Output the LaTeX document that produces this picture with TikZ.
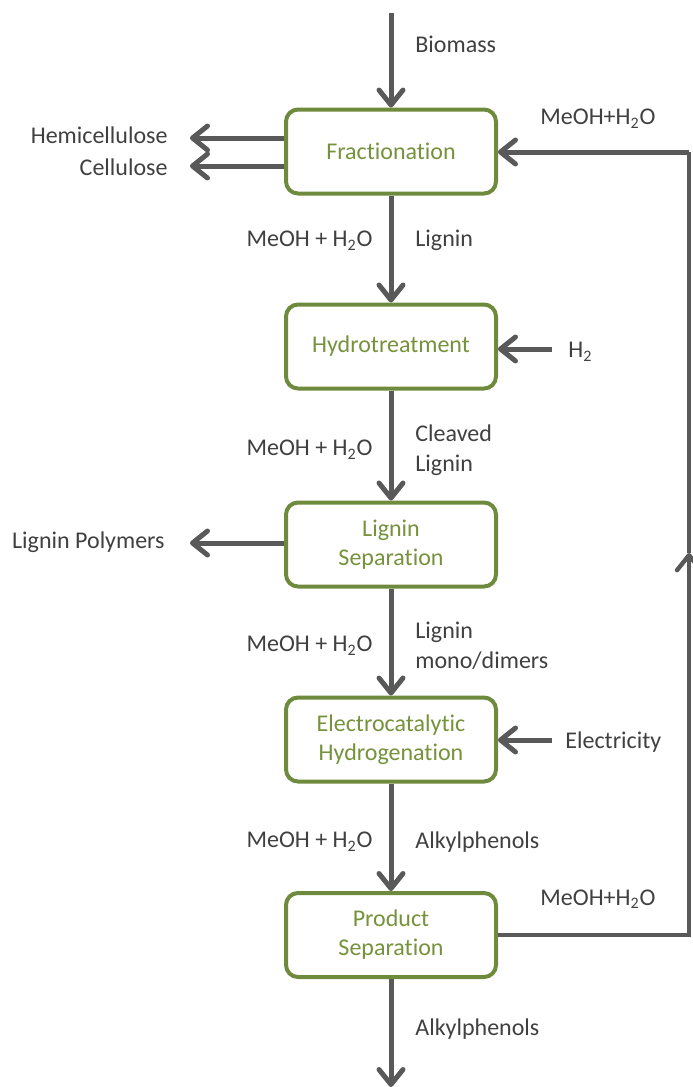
\documentclass[tikz,border=0pt]{standalone}
\usepackage{fontspec}
\setmainfont{Carlito}[Ligatures=NoCommon]
\usetikzlibrary{arrows.meta}
\definecolor{boxgreen}{HTML}{6E8B3D}
\definecolor{txtgreen}{HTML}{76923C}
\definecolor{arrgray}{HTML}{595959}
\definecolor{txtgray}{HTML}{404040}
\tikzset{
  proc/.style={rectangle, rounded corners=6pt, draw=boxgreen, line width=2pt, fill=white,
    minimum width=105pt, minimum height=42pt, text=txtgreen, align=center,
    font=\fontsize{12}{14.5}\selectfont, inner sep=0pt},
  lbl/.style={text=txtgray, font=\fontsize{12}{15}\selectfont, inner sep=0pt},
  flow/.style={draw=arrgray, line width=2.5pt, -{Straight Barb[length=7.5pt,width=12pt,round]}},
  flowline/.style={draw=arrgray, line width=2.2pt},
}
\begin{document}
\begin{tikzpicture}[x=0.5pt,y=-0.5pt]
\useasboundingbox (0,0) rectangle (692,1087);
% process boxes
\node[proc] (frac) at (391,151.5) {Fractionation};
\node[proc] (hydro) at (391,346.5) {Hydrotreatment};
\node[proc] (lsep) at (391,544.5) {Lignin\\Separation};
\node[proc] (ech) at (391,739.5) {Electrocatalytic\\Hydrogenation};
\node[proc] (psep) at (391,935) {Product\\Separation};
% free ends
\coordinate (top) at (391,13);
\coordinate (bot) at (391,1087);
\coordinate (hemi) at (190,138);
\coordinate (cell) at (190,166);
\coordinate (lpol) at (190,543);
\coordinate (htwo) at (552,349);
\coordinate (elec) at (552,740);
\coordinate (rbot) at (689,935);
\coordinate (rmid) at (689,553);
\coordinate (rtop) at (689,152);
% main vertical flow
\draw[flow] (top) -- (frac.north);
\draw[flow] (frac.south) -- (hydro.north);
\draw[flow] (hydro.south) -- (lsep.north);
\draw[flow] (lsep.south) -- (ech.north);
\draw[flow] (ech.south) -- (psep.north);
\draw[flow] (psep.south) -- (bot);
% side flows
\draw[flow] (frac.west |- hemi) -- (hemi);
\draw[flow] (frac.west |- cell) -- (cell);
\draw[flow] (lsep.west |- lpol) -- (lpol);
\draw[flow] (htwo) -- (hydro.east |- htwo);
\draw[flow] (elec) -- (ech.east |- elec);
% recycle loop
\draw[flowline, -{Straight Barb[length=7.5pt,width=12pt,round]}] (psep.east) -- (rbot) -- (rmid);
\draw[flowline] (rmid) -- (rtop);
\draw[flow] (rtop) -- (frac.east |- rtop);
% labels
\node[lbl, anchor=west] (lbio) at (415,44) {Biomass};
\node[lbl, anchor=east] (lhemi) at (168,135) {Hemicellulose};
\node[lbl, anchor=east] (lcell) at (168,167) {Cellulose};
\node[lbl, anchor=west] (lrec1) at (540,119) {MeOH+H\textsubscript{2}O};
\node[lbl, anchor=east] (lm1) at (373,241) {MeOH + H\textsubscript{2}O};
\node[lbl, anchor=west] (llig) at (415,240) {Lignin};
\node[lbl, anchor=west] (lh2) at (568,352) {H\textsubscript{2}};
\node[lbl, anchor=east] (lm2) at (373,450) {MeOH + H\textsubscript{2}O};
\node[lbl, anchor=west, align=left] (lclv) at (415,450) {Cleaved\\Lignin};
\node[lbl, anchor=east] (lpolt) at (165,542) {Lignin Polymers};
\node[lbl, anchor=east] (lm3) at (373,646) {MeOH + H\textsubscript{2}O};
\node[lbl, anchor=west, align=left] (lmono) at (415,646) {Lignin\\mono/dimers};
\node[lbl, anchor=west] (lelec) at (565,742) {Electricity};
\node[lbl, anchor=east] (lm4) at (373,842) {MeOH + H\textsubscript{2}O};
\node[lbl, anchor=west] (lalk1) at (415,842) {Alkylphenols};
\node[lbl, anchor=west] (lrec2) at (540,899) {MeOH+H\textsubscript{2}O};
\node[lbl, anchor=west] (lalk2) at (415,1029) {Alkylphenols};
\end{tikzpicture}
\end{document}
